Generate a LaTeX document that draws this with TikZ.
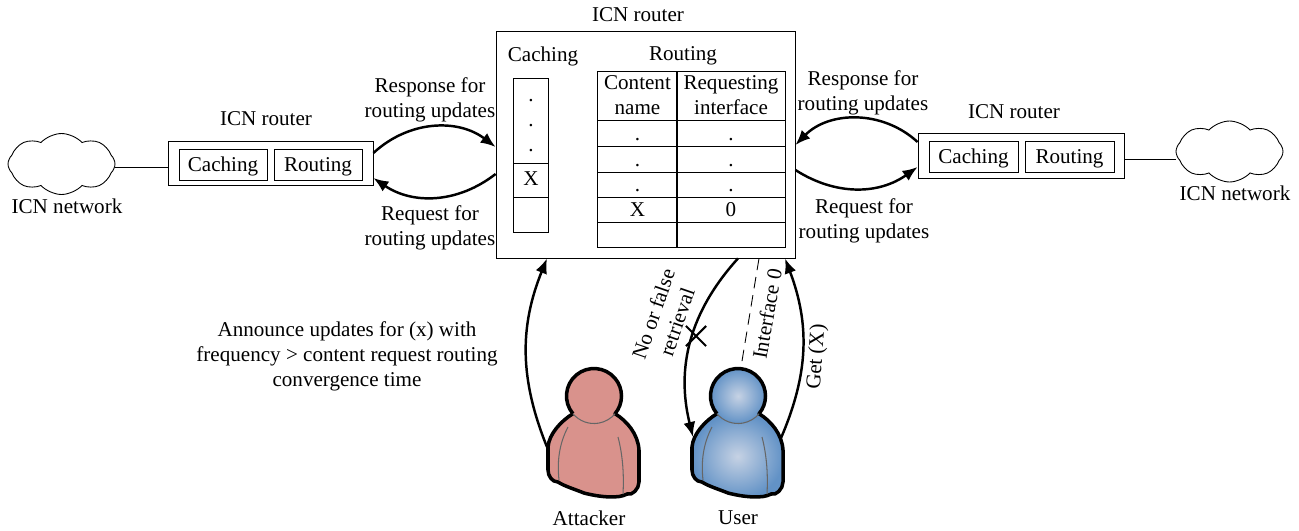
\documentclass[tikz,border=0pt]{standalone}
\usepackage{fontspec}
\setmainfont{Liberation Serif}
\usetikzlibrary{arrows.meta, shapes.symbols, shapes.misc, calc}

% one person: name, x, y, look of the filling
\newcommand{\drawperson}[4]{
    \begin{scope}[shift={(#2,#3)}]
        \node [head, #4] (#1) at (0,0) {};
        \path [#4] (21.07,17.7) .. controls (33,25) and (44,38) .. (45,54) -- (45,86)
            .. controls (45,93) and (38,100) .. (33,98)
            .. controls (25,103) and (5,101) .. (-10,97)
            .. controls (-20,93) and (-30,90) .. (-36,86)
            .. controls (-42,86) and (-46,80) .. (-46,74) -- (-46,51)
            .. controls (-45,38) and (-33,25) .. (-21.07,17.7)
            arc[start angle=140, delta angle=-100, radius=27.5] -- cycle;
        \draw [outline] (-21.07,17.7) arc[start angle=140, delta angle=260, radius=27.5]
            .. controls (33,25) and (44,38) .. (45,54) -- (45,86)
            .. controls (45,93) and (38,100) .. (33,98)
            .. controls (25,103) and (5,101) .. (-10,97)
            .. controls (-20,93) and (-30,90) .. (-36,86)
            .. controls (-42,86) and (-46,80) .. (-46,74) -- (-46,51)
            .. controls (-45,38) and (-33,25) .. (-21.07,17.7);
        \draw [seam] (-21.07,17.7) arc[start angle=140, delta angle=-100, radius=27.5];
        \draw [seam] (-26,31) .. controls (-35,48) and (-37,66) .. (-35,84);
        \draw [seam] (24,41) .. controls (29,60) and (30,80) .. (29,98);
    \end{scope}
}

\begin{document}
\begin{tikzpicture}[
    x=0.02cm, y=-0.02cm,
    % GLOBAL CFG
    font=\fontsize{12}{14.2}\selectfont,
    >={Latex[length=3mm,width=2.4mm]},
    line width=.5pt,
    % Styles
    box/.style={% For the router boxes
        rectangle,
        draw,
        inner sep=0pt,
        },
    cellbox/.style={% For cells with one line of text
        box,
        text height=10pt,
        text depth=2pt,
        },
    network/.style={% For the clouds
        cloud,
        draw,
        cloud puffs=8,
        cloud puff arc=95,
        aspect=1.7,
        inner sep=0pt,
        minimum width=2.14cm,
        minimum height=1.22cm,
        },
    mylabel/.style={% Multi line text
        align=center,
        inner sep=0pt,
        },
    head/.style={% For the head of a person
        circle,
        inner sep=0pt,
        minimum size=1.1cm,
        },
    outline/.style={line width=2pt, line join=round},
    seam/.style={line width=.6pt, draw=black!60},
    redfill/.style={fill={rgb,255:red,217;green,146;blue,140}},
    bluefill/.style={inner color={rgb,255:red,198;green,210;blue,228},
        outer color={rgb,255:red,98;green,146;blue,198}},
    ArrowC1/.style={% Arrows between boxes
        ->,
        line width=1.4pt,
        },
    ]

\useasboundingbox (0,0) rectangle (1299,531);

%Start drawing the thing...
    % Main router
    \node [box, minimum width=5.98cm, minimum height=4.54cm] (main) at (645.5,144.5) {};
    \node [mylabel] (main_title) at (638,15) {ICN router};
    \node [mylabel] (main_caching) at (543,56) {Caching};
    \node [mylabel] (main_routing) at (683,56) {Routing};

    % Caching column
    \node [box, minimum width=.69cm, minimum height=1.7cm] (cache_a) at (531,120.5) {};
    \node [mylabel] (cache_dots) at (531,125.5) {.\\.\\.};
    \node [cellbox, text height=8pt, minimum width=.69cm, minimum height=.68cm] (cache_b) at (531,180) {X};
    \node [cellbox, minimum width=.69cm, minimum height=.7cm] (cache_c) at (531,214.5) {};

    % Routing table
    \node [box, minimum width=1.59cm, minimum height=.98cm, align=center] (head_a) at (637.5,95.5) {Content\\name};
    \node [box, minimum width=2.17cm, minimum height=.98cm, align=center] (head_b) at (731,95.5) {Requesting\\interface};
    \foreach \y/\h/\ca/\cb/\i in {133/.52/./././1, 159/.52/./././2, 184.5/.5/./././3, 209.5/.5/X/0/4, 234.5/.5/{}/{}/5}{
        \node [cellbox, minimum width=1.59cm, minimum height=\h cm] (row\i_a) at (637.5,\y) {\ca};
        \node [cellbox, minimum width=2.17cm, minimum height=\h cm] (row\i_b) at (731,\y) {\cb};
    }

    % Left router
    \node [box, minimum width=4.1cm, minimum height=.88cm] (router_l) at (270.5,163) {};
    \node [cellbox, minimum width=1.76cm, minimum height=.62cm] (caching_l) at (223,164.5) {Caching};
    \node [cellbox, minimum width=1.76cm, minimum height=.62cm] (routing_l) at (318,164.5) {Routing};
    \node [mylabel] (title_l) at (266,119) {ICN router};

    % Right router
    \node [box, minimum width=4.12cm, minimum height=.9cm] (router_r) at (1021,155.5) {};
    \node [cellbox, minimum width=1.78cm, minimum height=.62cm] (caching_r) at (973.5,156.5) {Caching};
    \node [cellbox, minimum width=1.78cm, minimum height=.62cm] (routing_r) at (1069.5,156.5) {Routing};
    \node [mylabel] (title_r) at (1014,112) {ICN router};

    % Clouds
    \node [network] (cloud_l) at (61.5,164) {};
    \node [network] (cloud_r) at (1229.5,151.5) {};
    \node [mylabel] (net_l) at (67,206) {ICN network};
    \node [mylabel] (net_r) at (1235,193) {ICN network};

    % People
    \drawperson{attacker}{594}{396}{redfill}
    \drawperson{user}{738}{396}{bluefill}
    \node [mylabel] (attacker_name) at (589,518) {Attacker};
    \node [mylabel] (user_name) at (738,518) {User};

% Start connecting all.
    \draw ($(cloud_l.east)+(0,3)$) -- ($(cloud_l.east -| router_l.west)+(0,3)$);
    \draw ($(cloud_r.west)+(0,7.5)$) -- ($(cloud_r.west -| router_r.east)+(0,7.5)$);

    \draw [ArrowC1] ($(router_l.east)+(0,-10)$) to[bend left=40] ($(main.west)+(0,2.5)$);
    \draw [ArrowC1] ($(main.west)+(0,29.5)$) to[bend left=36] ($(router_l.east)+(0,15)$);
    \draw [ArrowC1] ($(router_r.west)+(0,-13.5)$) to[bend right=44] ($(main.east)+(0,0.5)$);
    \draw [ArrowC1] ($(main.east)+(0,25.5)$) to[bend right=34] ($(router_r.west)+(0,11.5)$);

    \draw [ArrowC1] ($(attacker.center)+(-47,51)$) to[bend left=22] ($(main.south)+(-98.5,0)$);
    \draw [ArrowC1] ($(user.center)+(43,42)$) to[bend right=22] ($(main.south)+(139.5,0)$);
    \draw [ArrowC1] ($(main.south)+(92.5,0)$) to[bend right=28] ($(user.center)+(-45,41)$);
    \draw [dashed, dash pattern=on 6.5pt off 4pt] ($(user.north)+(4,-7)$) -- ($(main.south)+(113.5,0)$);
    \node [cross out, draw, line width=1.2pt, inner sep=0pt, minimum size=.36cm] (xmark) at (696,336) {};

    % Arrow labels
    \node [mylabel] (resp_l) at (430,99.5) {Response for\\routing updates};
    \node [mylabel] (req_l) at (430,228) {Request for\\routing updates};
    \node [mylabel] (resp_r) at (863,93) {Response for\\routing updates};
    \node [mylabel] (req_r) at (864,221) {Request for\\routing updates};
    \node [mylabel] (announce) at (347,356) {Announce updates for (x) with\\frequency > content request routing\\convergence time};
    \node [mylabel, rotate=71] (retrieval) at (665,318) {No or false\\retrieval};
    \node [mylabel, rotate=80] (iface) at (767,314) {Interface 0};
    \node [mylabel, rotate=86] (getx) at (817,357) {Get (X)};

\end{tikzpicture}
\end{document}
